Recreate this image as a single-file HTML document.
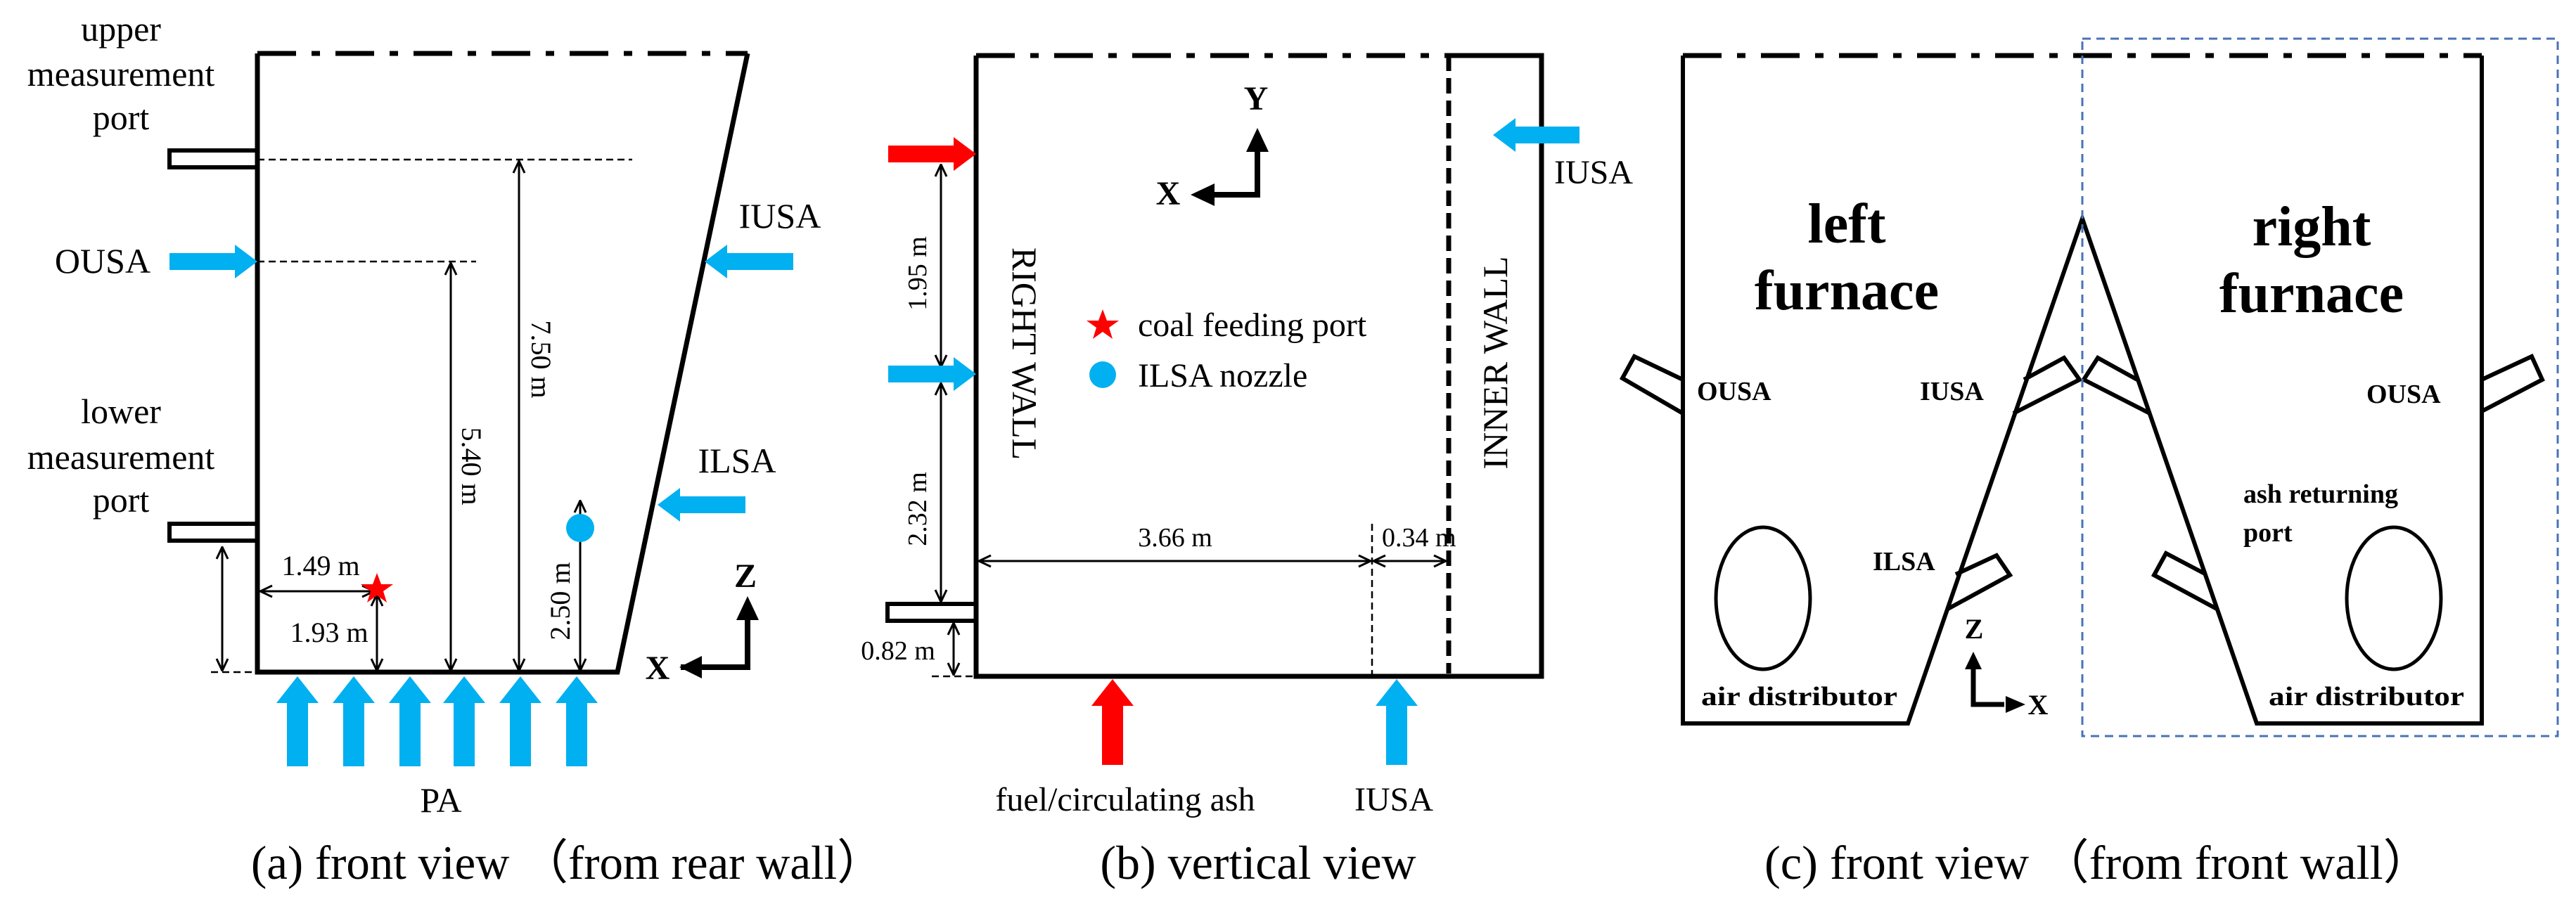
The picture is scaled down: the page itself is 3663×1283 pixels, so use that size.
<!DOCTYPE html>
<html><head><meta charset="utf-8"><style>
html,body{margin:0;padding:0;background:#fff;}
svg{display:block;}
text{font-family:"Liberation Serif",serif;fill:#000;}
.b{font-weight:bold;}
</style></head><body>
<svg width="3663" height="1283" viewBox="0 0 3663 1283" xmlns="http://www.w3.org/2000/svg">
<defs>
<marker id="ah" viewBox="0 0 20 20" refX="19" refY="10" markerWidth="20" markerHeight="20" markerUnits="userSpaceOnUse" orient="auto-start-reverse">
<path d="M2,2 L19,10 L2,18" fill="none" stroke="#000" stroke-width="3"/>
</marker>
</defs>

<!-- ============ Panel A ============ -->
<g fill="none" stroke="#000">
<line x1="366" y1="76" x2="1063" y2="76" stroke-width="7" stroke-dasharray="55 22 12 22"/>
<polyline points="366,76 366,956 878,956 1063,76" stroke-width="7"/>
<rect x="241" y="214" width="125" height="24" stroke-width="6"/>
<rect x="241" y="745" width="125" height="24" stroke-width="6"/>
<line x1="366" y1="227" x2="899" y2="227" stroke-width="2.5" stroke-dasharray="10 6"/>
<line x1="366" y1="372" x2="677" y2="372" stroke-width="2.5" stroke-dasharray="10 6"/>
<line x1="300" y1="956" x2="366" y2="956" stroke-width="2.5" stroke-dasharray="10 6"/>
<g stroke-width="3" marker-start="url(#ah)" marker-end="url(#ah)">
<line x1="738" y1="229" x2="738" y2="954"/>
<line x1="641" y1="374" x2="641" y2="954"/>
<line x1="825" y1="712" x2="825" y2="954"/>
<line x1="536" y1="845" x2="536" y2="954"/>
<line x1="370" y1="841" x2="532" y2="841"/>
<line x1="316" y1="778" x2="316" y2="954"/>
</g>
</g>
<circle cx="825" cy="751" r="20" fill="#00B0F0"/>
<polygon points="536,815 542,831 559,831 545,841 550,857 536,847 522,857 527,841 513,831 530,831" fill="#f00"/>
<g fill="#00B0F0">
<polygon points="241,360 334,360 334,348 366,372 334,396 334,384 241,384"/>
<polygon points="1128,360 1034,360 1034,348 1002,372 1034,396 1034,384 1128,384"/>
<polygon points="1060,706 967,706 967,694 935,718 967,742 967,730 1060,730"/>
<polygon points="408,1090 408,1000 393,1000 423,962 453,1000 438,1000 438,1090"/>
<polygon points="488,1090 488,1000 473,1000 503,962 533,1000 518,1000 518,1090"/>
<polygon points="568,1090 568,1000 553,1000 583,962 613,1000 598,1000 598,1090"/>
<polygon points="645,1090 645,1000 630,1000 660,962 690,1000 675,1000 675,1090"/>
<polygon points="725,1090 725,1000 710,1000 740,962 770,1000 755,1000 755,1090"/>
<polygon points="805,1090 805,1000 790,1000 820,962 850,1000 835,1000 835,1090"/>
</g>
<!-- axes a -->
<g fill="#000">
<polyline points="968,949 1063,949 1063,880" fill="none" stroke="#000" stroke-width="8"/>
<polygon points="1063,848 1047,882 1079,882"/>
<polygon points="966,949 998,933 998,965"/>
</g>
<text x="1060" y="835" font-size="48" class="b" text-anchor="middle">Z</text>
<text x="935" y="966" font-size="48" class="b" text-anchor="middle">X</text>

<g font-size="50" text-anchor="middle">
<text x="172" y="58">upper</text>
<text x="172" y="122">measurement</text>
<text x="172" y="184">port</text>
<text x="172" y="602">lower</text>
<text x="172" y="667">measurement</text>
<text x="172" y="728">port</text>
<text x="146" y="388">OUSA</text>
<text x="1109" y="324">IUSA</text>
<text x="1048" y="672">ILSA</text>
<text x="627" y="1155">PA</text>
</g>
<g font-size="40">
<text x="456" y="818" text-anchor="middle">1.49 m</text>
<text x="468" y="913" text-anchor="middle">1.93 m</text>
<text transform="translate(756,511) rotate(90)" text-anchor="middle">7.50 m</text>
<text transform="translate(657,663) rotate(90)" text-anchor="middle">5.40 m</text>
<text transform="translate(810,855) rotate(-90)" text-anchor="middle">2.50 m</text>
</g>
<text x="357" y="1250" font-size="68" textLength="900" lengthAdjust="spacingAndGlyphs">(a) front view （from rear wall）</text>

<!-- ============ Panel B ============ -->
<g fill="none" stroke="#000">
<line x1="1388" y1="79" x2="2060" y2="79" stroke-width="7" stroke-dasharray="55 22 12 22"/>
<polyline points="1388,79 1388,962 2192,962 2192,79 2060,79" stroke-width="7"/>
<line x1="2060" y1="79" x2="2060" y2="958" stroke-width="7" stroke-dasharray="22 10"/>
<rect x="1262" y="859" width="126" height="24" stroke-width="6"/>
<line x1="1325" y1="962" x2="1388" y2="962" stroke-width="2.5" stroke-dasharray="10 6"/>
<line x1="1951" y1="745" x2="1951" y2="962" stroke-width="2.5" stroke-dasharray="10 6"/>
<g stroke-width="3" marker-start="url(#ah)" marker-end="url(#ah)">
<line x1="1338" y1="234" x2="1338" y2="522"/>
<line x1="1338" y1="545" x2="1338" y2="856"/>
<line x1="1356" y1="886" x2="1356" y2="960"/>
<line x1="1392" y1="798" x2="1949" y2="798"/>
<line x1="1953" y1="798" x2="2056" y2="798"/>
</g>
</g>
<polygon points="1263,207 1356,207 1356,195 1388,219 1356,243 1356,231 1263,231" fill="#f00"/>
<polygon points="1263,520 1356,520 1356,508 1388,532 1356,556 1356,544 1263,544" fill="#00B0F0"/>
<polygon points="2246,180 2155,180 2155,168 2123,192 2155,216 2155,204 2246,204" fill="#00B0F0"/>
<polygon points="1567,1088 1567,1004 1552,1004 1582,966 1612,1004 1597,1004 1597,1088" fill="#f00"/>
<polygon points="1971,1088 1971,1004 1956,1004 1986,966 2016,1004 2001,1004 2001,1088" fill="#00B0F0"/>
<!-- axes b -->
<g fill="#000">
<polyline points="1725,277 1788,277 1788,212" fill="none" stroke="#000" stroke-width="8"/>
<polygon points="1788,182 1772,216 1804,216"/>
<polygon points="1693,277 1727,261 1727,293"/>
</g>
<text x="1786" y="156" font-size="48" class="b" text-anchor="middle">Y</text>
<text x="1661" y="291" font-size="48" class="b" text-anchor="middle">X</text>
<polygon points="1568,440 1574,456 1591,456 1577,466 1582,482 1568,472 1554,482 1559,466 1545,456 1562,456" fill="#f00"/>
<circle cx="1568" cy="533" r="19" fill="#00B0F0"/>
<g font-size="48">
<text x="1618" y="478">coal feeding port</text>
<text x="1618" y="550">ILSA nozzle</text>
<text x="1600" y="1153" text-anchor="middle">fuel/circulating ash</text>
<text x="1982" y="1153" text-anchor="middle">IUSA</text>
<text x="2210" y="261">IUSA</text>
<text transform="translate(1440,503) rotate(90)" text-anchor="middle" font-size="50">RIGHT WALL</text>
<text transform="translate(2143,516) rotate(-90)" text-anchor="middle" font-size="50">INNER WALL</text>
</g>
<g font-size="38">
<text transform="translate(1317,389) rotate(-90)" text-anchor="middle">1.95 m</text>
<text transform="translate(1317,724) rotate(-90)" text-anchor="middle">2.32 m</text>
<text x="1277" y="938" text-anchor="middle">0.82 m</text>
<text x="1671" y="777" text-anchor="middle">3.66 m</text>
<text x="1965" y="777">0.34 m</text>
</g>
<text x="1789" y="1250" font-size="68" text-anchor="middle">(b) vertical view</text>

<!-- ============ Panel C ============ -->
<g fill="none" stroke="#000" stroke-width="6">
<line x1="2393" y1="79" x2="3529" y2="79" stroke-width="7" stroke-dasharray="55 22 12 22"/>
<polyline points="2393,79 2393,1029 2713,1029 2961,311 3209,1029 3529,1029 3529,79"/>
<polyline points="2393,540 2324,507 2307,538 2393,588"/>
<polyline points="3529,540 3600,507 3615,540 3529,585"/>
<polyline points="2878,540 2935,509 2957,540 2863,588"/>
<polyline points="3039,540 2983,509 2963,540 3057,588"/>
<polyline points="2781,817 2839,790 2858,818 2770,866"/>
<polyline points="3137,817 3080,787 3063,818 3152,866"/>
<ellipse cx="2507" cy="851" rx="67" ry="101" stroke-width="5"/>
<ellipse cx="3404" cy="851" rx="67" ry="101" stroke-width="5"/>
</g>
<rect x="2961" y="55" width="676" height="992" fill="none" stroke="#4a72b8" stroke-width="3" stroke-dasharray="12 8"/>
<g fill="#000">
<polyline points="2806,935 2806,1002 2850,1002" fill="none" stroke="#000" stroke-width="7"/>
<polygon points="2806,927 2794,952 2818,952"/>
<polygon points="2880,1002 2852,990 2852,1014"/>
</g>
<text x="2807" y="908" font-size="40" class="b" text-anchor="middle">Z</text>
<text x="2898" y="1016" font-size="40" class="b" text-anchor="middle">X</text>
<g class="b" font-size="80" text-anchor="middle">
<text x="2626" y="345">left</text>
<text x="2626" y="440">furnace</text>
<text x="3287" y="349">right</text>
<text x="3287" y="444">furnace</text>
</g>
<g class="b" font-size="38">
<text x="2413" y="569">OUSA</text>
<text x="2730" y="569">IUSA</text>
<text x="2663" y="811">ILSA</text>
<text x="3365" y="573">OUSA</text>
<text x="3190" y="715">ash returning</text>
<text x="3190" y="770">port</text>
<text x="2419" y="1003" textLength="279" lengthAdjust="spacingAndGlyphs">air distributor</text>
<text x="3226" y="1003" textLength="278" lengthAdjust="spacingAndGlyphs">air distributor</text>
</g>
<text x="2509" y="1250" font-size="68" textLength="948" lengthAdjust="spacingAndGlyphs">(c) front view （from front wall）</text>
</svg>
</body></html>
